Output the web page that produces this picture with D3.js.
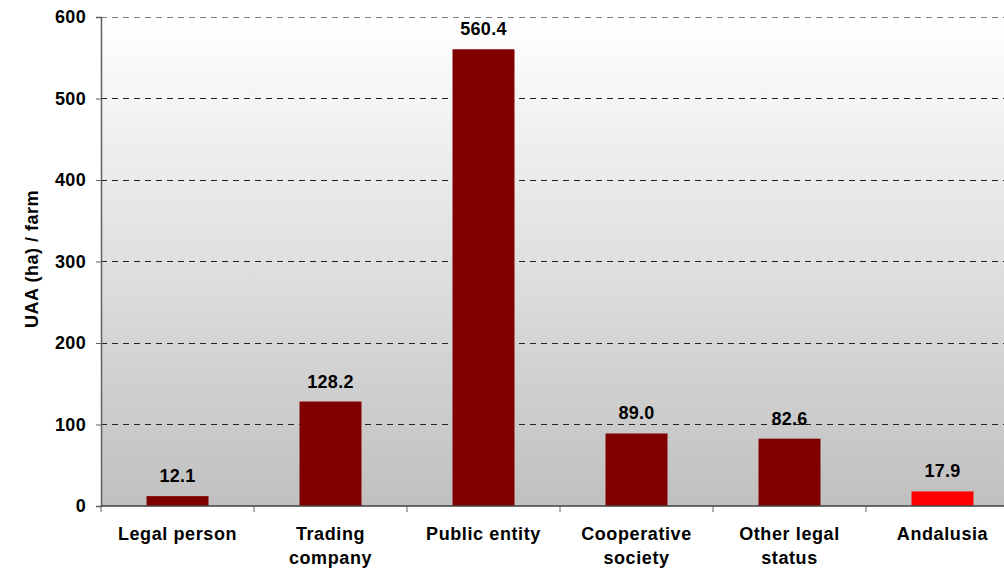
<!DOCTYPE html>
<html>
<head>
<meta charset="utf-8">
<script src="https://cdn.jsdelivr.net/npm/d3@7"></script>
<style>
  body { margin: 0; background: #fff; }
  svg { display: block; font-family: "Liberation Sans", Arial, sans-serif; }
</style>
</head>
<body>
<svg id="chart" width="1004" height="570"></svg>
<script>
// chart data
const categories = ["Legal person", "Trading company", "Public entity", "Cooperative society", "Other legal status", "Andalusia"];
const categoryLines = [["Legal person"], ["Trading", "company"], ["Public entity"], ["Cooperative", "society"], ["Other legal", "status"], ["Andalusia"]];
const values = [12.1, 128.2, 560.4, 89.0, 82.6, 17.9];
const barColors = ["#800000", "#800000", "#800000", "#800000", "#800000", "#ff0000"];
const yTicks = [0, 100, 200, 300, 400, 500, 600];

const svg = d3.select("#chart");
const plotLeft = 101, plotRight = 1019, plotTop = 17, plotBottom = 506;

const xScale = d3.scaleBand().domain(categories).range([plotLeft, plotRight]).padding(0);
const yScale = d3.scaleLinear().domain([0, 600]).range([plotBottom, plotTop]);
const barW = xScale.bandwidth() * 0.405;

// gradient background of the plot area
const grad = svg.append("defs").append("linearGradient")
  .attr("id", "bg").attr("x1", 0).attr("y1", 0).attr("x2", 0).attr("y2", 1);
grad.append("stop").attr("offset", "0%").attr("stop-color", "#ffffff");
grad.append("stop").attr("offset", "100%").attr("stop-color", "#c0c0c0");

svg.append("rect")
  .attr("x", plotLeft).attr("y", plotTop)
  .attr("width", plotRight - plotLeft).attr("height", plotBottom - plotTop)
  .attr("fill", "url(#bg)");

// dashed gridlines
svg.append("g").selectAll("line")
  .data(yTicks.filter(d => d > 0))
  .enter().append("line")
  .attr("x1", plotLeft).attr("x2", plotRight)
  .attr("y1", d => yScale(d)).attr("y2", d => yScale(d))
  .attr("stroke", d => d === 600 ? "#808080" : "#222")
  .attr("stroke-width", 1)
  .attr("stroke-dasharray", "6,5")
  .attr("shape-rendering", "crispEdges");

// bars
svg.append("g").selectAll("rect")
  .data(values)
  .enter().append("rect")
  .attr("x", (d, i) => xScale(categories[i]) + xScale.bandwidth() / 2 - barW / 2)
  .attr("y", d => yScale(d))
  .attr("width", barW)
  .attr("height", d => plotBottom - yScale(d))
  .attr("fill", (d, i) => barColors[i]);

// value labels
svg.append("g").selectAll("text")
  .data(values)
  .enter().append("text")
  .attr("x", (d, i) => xScale(categories[i]) + xScale.bandwidth() / 2)
  .attr("y", d => yScale(d) - 14)
  .attr("text-anchor", "middle")
  .style("font-size", "18px")
  .style("font-weight", "bold")
  .style("letter-spacing", "0.3px")
  .attr("fill", "#000")
  .text(d => d.toFixed(1));

// y axis
const yAxis = svg.append("g")
  .attr("transform", `translate(${plotLeft},0)`)
  .call(d3.axisLeft(yScale).tickValues(yTicks).tickSize(5).tickPadding(10).tickFormat(d3.format("d")));
yAxis.select(".domain").attr("stroke", "#606060").attr("stroke-width", 1.5);
yAxis.selectAll(".tick line").attr("stroke", "#606060");
yAxis.selectAll("text")
  .style("font-size", "18px")
  .style("font-weight", "bold")
  .style("letter-spacing", "0.3px")
  .attr("fill", "#000");

// x axis with ticks at category boundaries
svg.append("line")
  .attr("x1", plotLeft).attr("x2", plotRight)
  .attr("y1", plotBottom).attr("y2", plotBottom)
  .attr("stroke", "#404040").attr("stroke-width", 1.5);
svg.append("g").selectAll("line")
  .data(categories)
  .enter().append("line")
  .attr("x1", d => xScale(d)).attr("x2", d => xScale(d))
  .attr("y1", plotBottom).attr("y2", plotBottom + 6)
  .attr("stroke", "#606060");

// category labels
const xLabels = svg.append("g").selectAll("text")
  .data(categories)
  .enter().append("text")
  .attr("x", d => xScale(d) + xScale.bandwidth() / 2)
  .attr("y", 540)
  .attr("text-anchor", "middle")
  .style("font-size", "18px")
  .style("font-weight", "bold")
  .style("letter-spacing", "0.6px")
  .attr("fill", "#000");
xLabels.each(function(d, i) {
  d3.select(this).selectAll("tspan")
    .data(categoryLines[i])
    .enter().append("tspan")
    .attr("x", xScale(d) + xScale.bandwidth() / 2)
    .attr("dy", (t, j) => j === 0 ? 0 : 24)
    .text(t => t);
});

// y axis title
svg.append("text")
  .attr("transform", `translate(38,259) rotate(-90)`)
  .attr("text-anchor", "middle")
  .style("font-size", "18px")
  .style("font-weight", "bold")
  .style("letter-spacing", "0.5px")
  .text("UAA (ha) / farm");
</script>
</body>
</html>
